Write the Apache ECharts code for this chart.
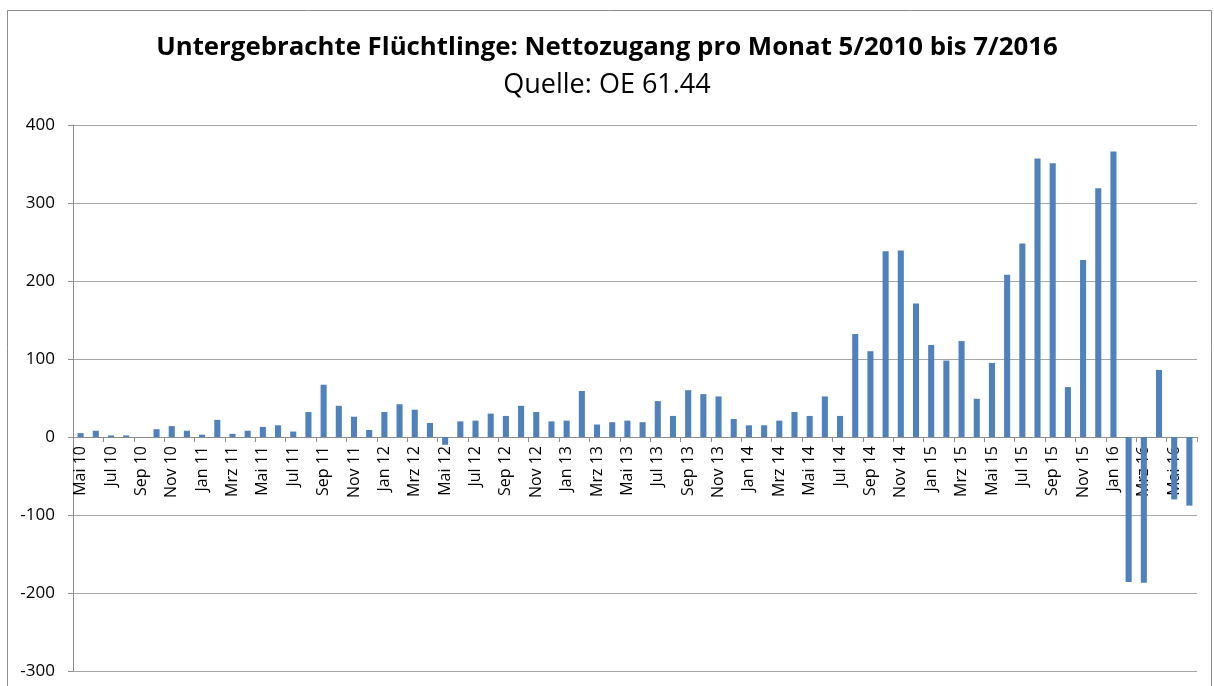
<!DOCTYPE html>
<html>
<head>
<meta charset="utf-8">
<script src="https://cdn.jsdelivr.net/npm/echarts@6/dist/echarts.min.js"></script>
<style>
html,body{margin:0;padding:0;background:#fff;}
#main{width:1214px;height:686px;}
</style>
</head>
<body>
<div id="main"></div>
<script>
// Monate Mai 2010 bis Jun 2016
var monate = [
  'Mai 10','Jun 10','Jul 10','Aug 10','Sep 10','Okt 10','Nov 10','Dez 10',
  'Jan 11','Feb 11','Mrz 11','Apr 11','Mai 11','Jun 11','Jul 11','Aug 11','Sep 11','Okt 11','Nov 11','Dez 11',
  'Jan 12','Feb 12','Mrz 12','Apr 12','Mai 12','Jun 12','Jul 12','Aug 12','Sep 12','Okt 12','Nov 12','Dez 12',
  'Jan 13','Feb 13','Mrz 13','Apr 13','Mai 13','Jun 13','Jul 13','Aug 13','Sep 13','Okt 13','Nov 13','Dez 13',
  'Jan 14','Feb 14','Mrz 14','Apr 14','Mai 14','Jun 14','Jul 14','Aug 14','Sep 14','Okt 14','Nov 14','Dez 14',
  'Jan 15','Feb 15','Mrz 15','Apr 15','Mai 15','Jun 15','Jul 15','Aug 15','Sep 15','Okt 15','Nov 15','Dez 15',
  'Jan 16','Feb 16','Mrz 16','Apr 16','Mai 16','Jun 16'
];
// Nettozugang pro Monat
var nettozugang = [
  5, 8, 2, 2, 0, 10, 14, 8,
  3, 22, 4, 8, 13, 15, 7, 32, 67, 40, 26, 9,
  32, 42, 35, 18, -10, 20, 21, 30, 27, 40, 32, 20,
  21, 59, 16, 19, 21, 19, 46, 27, 60, 55, 52, 23,
  15, 15, 21, 32, 27, 52, 27, 132, 110, 238, 239, 171,
  118, 98, 123, 49, 95, 208, 248, 357, 351, 64, 227, 319,
  366, -186, -187, 86, -80, -88
];
var yTicks = [-300, -200, -100, 0, 100, 200, 300, 400];

var gridTop = 125, gridBottom = 15, chartH = 686;
// x-Achse auf die Nulllinie schieben (onZero greift hier nicht)
var plotH = chartH - gridTop - gridBottom;
var yMin = yTicks[0], yMax = yTicks[yTicks.length - 1];
var zeroOffset = -plotH * (0 - yMin) / (yMax - yMin);

var myChart = echarts.init(document.getElementById('main'));
var font = '"Open Sans", "Liberation Sans", sans-serif';
var option = {
  animation: false,
  backgroundColor: '#fff',
  title: [{
    text: 'Untergebrachte Flüchtlinge: Nettozugang pro Monat 5/2010 bis 7/2016',
    left: 'center', top: 30,
    textStyle: {fontFamily: font, fontSize: 25.8, fontWeight: 'bold', color: '#000'}
  }, {
    text: 'Quelle: OE 61.44',
    left: 'center', top: 67,
    textStyle: {fontFamily: font, fontSize: 27, fontWeight: 'normal', color: '#000'}
  }],
  graphic: [{
    type: 'rect',
    shape: {x: 7.5, y: 10.5, width: 1204, height: 700},
    style: {fill: null, stroke: '#8c8c8c', lineWidth: 1},
    silent: true
  }],
  grid: {left: 73, right: 17, top: gridTop, bottom: gridBottom, containLabel: false, outerBoundsMode: 'none'},
  xAxis: {
    type: 'category',
    data: monate,
    position: 'bottom',
    offset: zeroOffset,
    axisLine: {onZero: false, lineStyle: {color: '#8c8c8c'}},
    axisTick: {show: true, interval: 1, length: 5, lineStyle: {color: '#8c8c8c'}},
    axisLabel: {interval: 1, rotate: 90, margin: 9, fontFamily: font, fontSize: 16, color: '#000'},
    splitLine: {show: false}
  },
  yAxis: {
    type: 'value',
    min: yMin, max: yMax, interval: 100,
    axisLine: {show: true, lineStyle: {color: '#8c8c8c'}},
    axisTick: {show: true, length: 5, lineStyle: {color: '#8c8c8c'}},
    axisLabel: {margin: 18, fontFamily: font, fontSize: 17, color: '#000'},
    splitLine: {lineStyle: {color: '#a6a6a6', width: 1}}
  },
  series: [{
    type: 'bar',
    data: nettozugang,
    barCategoryGap: '60%',
    itemStyle: {color: '#4f81bd'}
  }]
};
myChart.setOption(option);
</script>
</body>
</html>
